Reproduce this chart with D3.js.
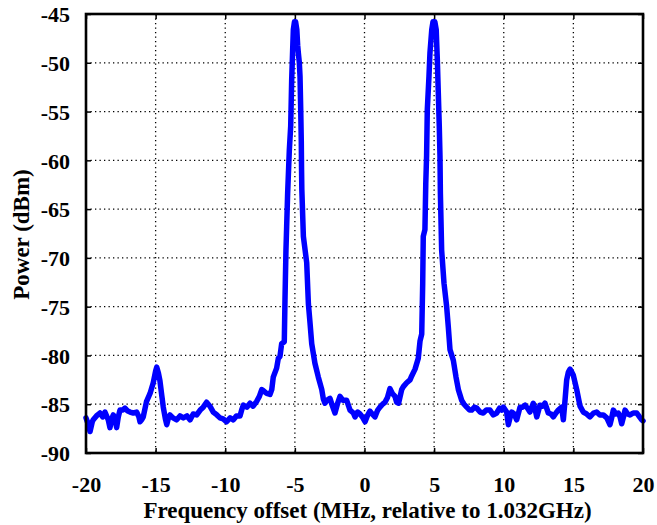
<!DOCTYPE html>
<html>
<head>
<meta charset="utf-8">
<script src="https://cdn.jsdelivr.net/npm/d3@7"></script>
<style>
html,body{margin:0;padding:0;background:#fff;}
svg{display:block;}
text{font-family:"Liberation Serif","Times New Roman",serif;font-weight:bold;fill:#000;}
</style>
</head>
<body>
<svg id="chart" width="657" height="525"></svg>
<script>
const freq = [-20.0,-19.85,-19.71,-19.55,-19.48,-19.25,-19.0,-18.8,-18.64,-18.4,-18.28,-18.15,-18.04,-17.9,-17.8,-17.68,-17.56,-17.35,-17.2,-17.0,-16.84,-16.6,-16.36,-16.2,-16.12,-16.0,-15.89,-15.65,-15.4,-15.17,-15.0,-14.92,-14.8,-14.69,-14.55,-14.45,-14.3,-14.2,-14.08,-13.97,-13.75,-13.49,-13.25,-13.01,-12.75,-12.53,-12.3,-12.05,-11.8,-11.58,-11.34,-11.1,-10.86,-10.6,-10.38,-10.15,-9.9,-9.65,-9.42,-9.2,-8.94,-8.8,-8.7,-8.45,-8.22,-8.0,-7.74,-7.55,-7.38,-7.27,-7.02,-6.79,-6.66,-6.55,-6.31,-6.19,-6.07,-5.95,-5.76,-5.71,-5.64,-5.59,-5.52,-5.4,-5.3,-5.23,-5.16,-5.11,-5.03,-4.95,-4.86,-4.8,-4.75,-4.68,-4.63,-4.58,-4.54,-4.52,-4.5,-4.39,-4.15,-4.03,-3.91,-3.79,-3.56,-3.32,-3.07,-2.95,-2.84,-2.7,-2.48,-2.3,-2.12,-1.95,-1.76,-1.55,-1.28,-1.04,-0.8,-0.68,-0.5,-0.32,-0.15,0.04,0.2,0.39,0.55,0.75,0.95,1.11,1.3,1.47,1.65,1.83,2.0,2.19,2.31,2.45,2.67,2.79,3.03,3.27,3.39,3.63,3.86,3.99,4.11,4.18,4.22,4.34,4.4,4.46,4.51,4.63,4.7,4.83,4.92,5.05,5.15,5.23,5.3,5.37,5.42,5.45,5.54,5.71,5.9,6.02,6.14,6.38,6.57,6.74,6.98,7.15,7.34,7.55,7.7,7.9,8.06,8.3,8.53,8.75,9.01,9.25,9.49,9.7,9.85,9.97,10.21,10.33,10.45,10.57,10.75,10.93,11.17,11.35,11.53,11.7,11.88,12.12,12.25,12.37,12.6,12.8,12.96,13.2,13.4,13.56,13.75,13.92,14.16,14.28,14.4,14.52,14.64,14.76,14.88,14.99,15.24,15.48,15.71,15.95,16.19,16.45,16.67,16.9,17.15,17.4,17.63,17.75,17.87,18.05,18.23,18.35,18.47,18.6,18.71,18.9,19.07,19.3,19.55,19.75,19.91,20.0];
const power = [-86.4,-87.0,-87.8,-86.8,-86.6,-86.2,-85.9,-86.3,-85.8,-86.6,-87.4,-86.5,-86.1,-86.6,-87.4,-86.3,-85.6,-85.6,-85.4,-85.7,-85.8,-85.9,-85.8,-86.3,-86.8,-86.6,-86.3,-84.7,-83.9,-82.8,-81.6,-81.2,-81.8,-82.6,-84.2,-85.3,-86.5,-87.1,-86.4,-86.1,-86.4,-86.6,-86.2,-86.4,-86.2,-86.6,-86.0,-86.1,-85.6,-85.3,-84.8,-85.2,-85.8,-86.1,-86.4,-86.5,-86.8,-86.4,-86.6,-86.2,-86.2,-85.5,-85.1,-85.3,-84.9,-85.2,-84.7,-84.2,-83.5,-83.6,-83.9,-84.0,-83.5,-82.2,-81.3,-80.3,-80.1,-78.8,-78.6,-74.3,-69.2,-66.8,-63.4,-59.0,-56.5,-51.8,-48.7,-46.6,-45.8,-45.8,-46.6,-48.2,-49.0,-50.0,-51.4,-54.8,-58.0,-61.0,-63.0,-67.8,-70.5,-74.7,-76.7,-78.8,-80.8,-82.2,-83.5,-84.5,-84.9,-84.6,-84.4,-85.2,-85.9,-85.0,-84.2,-84.6,-84.6,-85.6,-85.9,-86.3,-85.8,-86.0,-86.3,-86.8,-86.2,-85.7,-86.0,-86.3,-85.6,-85.3,-85.0,-84.8,-84.3,-83.4,-83.9,-84.2,-84.8,-84.9,-83.5,-83.2,-82.8,-82.5,-82.1,-81.4,-80.3,-78.5,-77.8,-72.6,-67.8,-67.1,-62.4,-59.5,-54.8,-51.4,-49.0,-46.6,-45.8,-45.8,-46.6,-49.7,-53.1,-56.5,-59.5,-63.4,-69.2,-72.6,-75.0,-77.1,-79.4,-80.5,-82.2,-83.5,-84.6,-85.0,-85.3,-85.6,-85.6,-85.3,-85.4,-85.8,-85.9,-85.6,-85.6,-86.1,-85.9,-85.4,-85.6,-85.3,-85.8,-87.1,-86.4,-85.8,-86.0,-86.6,-85.3,-85.3,-85.1,-85.4,-85.8,-84.9,-85.5,-86.3,-85.1,-85.2,-84.9,-85.9,-86.0,-86.3,-85.9,-85.6,-85.3,-86.6,-84.6,-82.5,-81.7,-81.4,-81.7,-82.0,-83.5,-85.2,-85.8,-86.0,-86.3,-85.9,-85.8,-86.1,-86.1,-86.4,-87.1,-86.4,-85.6,-86.0,-85.9,-86.3,-87.0,-86.3,-85.6,-86.0,-86.1,-85.9,-85.9,-86.3,-86.6,-86.7];
const xTicks = [-20,-15,-10,-5,0,5,10,15,20];
const yTicks = [-45,-50,-55,-60,-65,-70,-75,-80,-85,-90];
const xLabel = "Frequency offset (MHz, relative to 1.032GHz)";
const yLabel = "Power (dBm)";

const L = 86, R = 643, T = 14, B = 453;
const svg = d3.select("#chart");
const x = d3.scaleLinear().domain([-20, 20]).range([L, R]);
const y = d3.scaleLinear().domain([-90, -45]).range([B, T]);
const fmt = d => String(d);

// grid
const grid = svg.append("g").attr("stroke", "#000").attr("stroke-width", 1.3).attr("stroke-dasharray", "1.3,3.2");
grid.selectAll(".gx").data(xTicks.slice(1, -1)).join("line")
  .attr("x1", d => x(d)).attr("x2", d => x(d)).attr("y1", T).attr("y2", B);
grid.selectAll(".gy").data(yTicks.slice(1, -1)).join("line")
  .attr("x1", L).attr("x2", R).attr("y1", d => y(d)).attr("y2", d => y(d));

// axes
const fs = "22px";
const axB = svg.append("g").attr("transform", `translate(0,${B})`)
  .call(d3.axisBottom(x).tickValues(xTicks).tickFormat(fmt).tickSizeInner(-5).tickSizeOuter(0).tickPadding(23));
const axT = svg.append("g").attr("transform", `translate(0,${T})`)
  .call(d3.axisTop(x).tickValues(xTicks).tickSizeInner(-5).tickSizeOuter(0).tickFormat(""));
const axL = svg.append("g").attr("transform", `translate(${L},0)`)
  .call(d3.axisLeft(y).tickValues(yTicks).tickFormat(fmt).tickSizeInner(-5).tickSizeOuter(0).tickPadding(16));
const axR = svg.append("g").attr("transform", `translate(${R},0)`)
  .call(d3.axisRight(y).tickValues(yTicks).tickSizeInner(-5).tickSizeOuter(0).tickFormat(""));
[axB, axT, axL, axR].forEach(a => {
  a.select(".domain").remove();
  a.selectAll(".tick line").attr("stroke", "#000").attr("stroke-width", 1.5);
  a.selectAll("text").style("font-family", '"Liberation Serif","Times New Roman",serif')
    .style("font-weight", "bold").style("font-size", fs).attr("fill", "#000");
});
axL.selectAll("text").attr("dy", "0.35em");
axB.selectAll("text").attr("dy", "0.71em");

// line
const data = freq.map((f, i) => [f, power[i]]);
svg.append("path").datum(data)
  .attr("fill", "none").attr("stroke", "#0000ff").attr("stroke-width", 5.5)
  .attr("stroke-linejoin", "round").attr("stroke-linecap", "round")
  .attr("d", d3.line().x(d => x(d[0])).y(d => y(d[1])));

// frame
svg.append("rect").attr("x", L).attr("y", T).attr("width", R - L).attr("height", B - T)
  .attr("fill", "none").attr("stroke", "#000").attr("stroke-width", 2.6);

// labels
svg.append("text").attr("x", (L + R) / 2 + 3).attr("y", 518).attr("text-anchor", "middle")
  .style("font-size", "23px").text(xLabel);
svg.append("text").attr("transform", `translate(29,${(T + B) / 2 + 1}) rotate(-90)`)
  .attr("text-anchor", "middle").style("font-size", "23px").text(yLabel);
</script>
</body>
</html>
